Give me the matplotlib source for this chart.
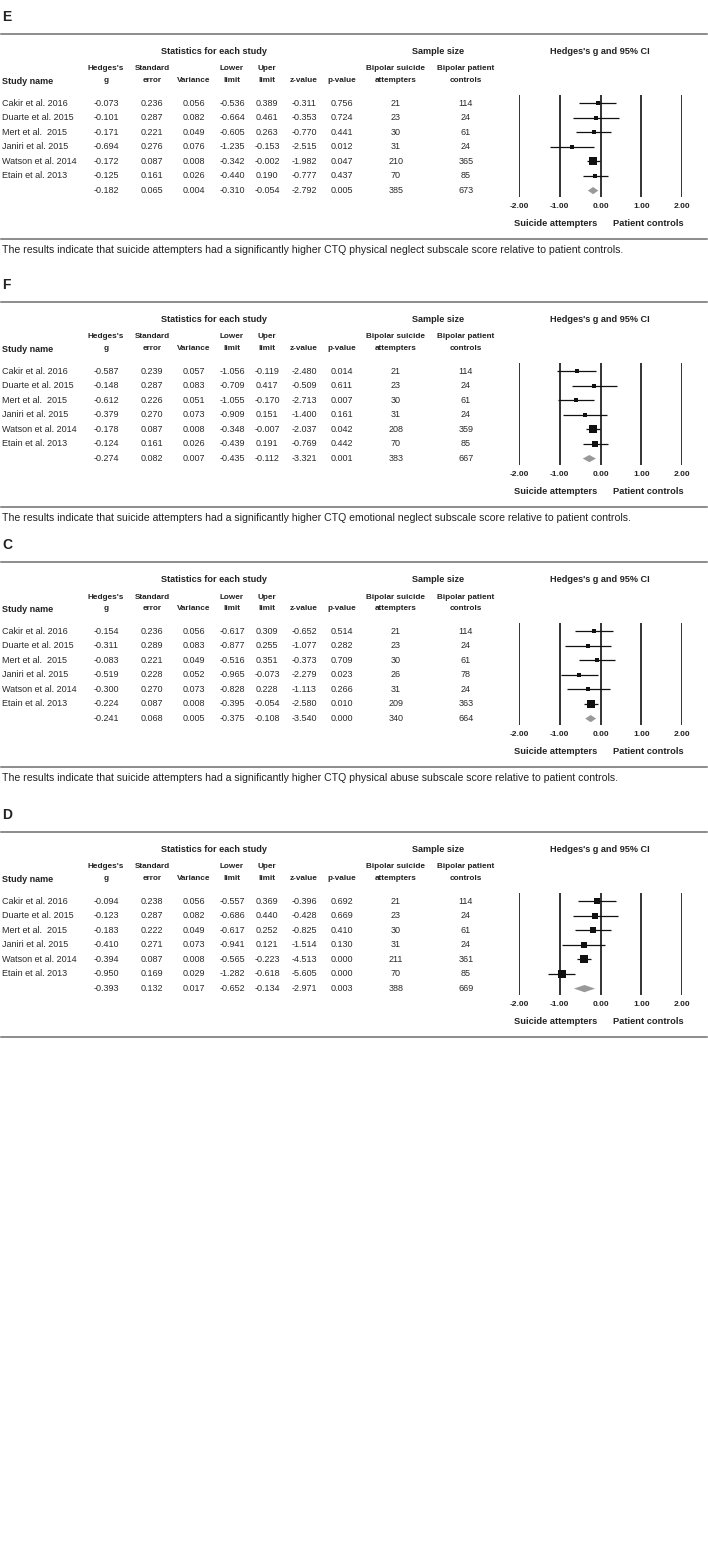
import numpy as np
import matplotlib
matplotlib.use("Agg")
import matplotlib.pyplot as plt
from matplotlib.lines import Line2D
from matplotlib.patches import Polygon

plt.rcParams['font.family'] = ['Liberation Sans', 'DejaVu Sans']

W, H = 708, 1561

studies = ["Cakir et al. 2016", "Duarte et al. 2015", "Mert et al.  2015",
           "Janiri et al. 2015", "Watson et al. 2014", "Etain et al. 2013", ""]

panel_labels = ["E", "F", "C", "D"]
captions = [
    "The results indicate that suicide attempters had a significantly higher CTQ physical neglect subscale score relative to patient controls.",
    "The results indicate that suicide attempters had a significantly higher CTQ emotional neglect subscale score relative to patient controls.",
    "The results indicate that suicide attempters had a significantly higher CTQ physical abuse subscale score relative to patient controls.",
    "",
]

# last entry of each list = summary row
E_g = [-0.073, -0.101, -0.171, -0.694, -0.172, -0.125, -0.182]
E_se = [0.236, 0.287, 0.221, 0.276, 0.087, 0.161, 0.065]
E_var = [0.056, 0.082, 0.049, 0.076, 0.008, 0.026, 0.004]
E_low = [-0.536, -0.664, -0.605, -1.235, -0.342, -0.440, -0.310]
E_up = [0.389, 0.461, 0.263, -0.153, -0.002, 0.190, -0.054]
E_z = [-0.311, -0.353, -0.770, -2.515, -1.982, -0.777, -2.792]
E_p = [0.756, 0.724, 0.441, 0.012, 0.047, 0.437, 0.005]
E_n1 = [21, 23, 30, 31, 210, 70, 385]
E_n2 = [114, 24, 61, 24, 365, 85, 673]

F_g = [-0.587, -0.148, -0.612, -0.379, -0.178, -0.124, -0.274]
F_se = [0.239, 0.287, 0.226, 0.270, 0.087, 0.161, 0.082]
F_var = [0.057, 0.083, 0.051, 0.073, 0.008, 0.026, 0.007]
F_low = [-1.056, -0.709, -1.055, -0.909, -0.348, -0.439, -0.435]
F_up = [-0.119, 0.417, -0.170, 0.151, -0.007, 0.191, -0.112]
F_z = [-2.480, -0.509, -2.713, -1.400, -2.037, -0.769, -3.321]
F_p = [0.014, 0.611, 0.007, 0.161, 0.042, 0.442, 0.001]
F_n1 = [21, 23, 30, 31, 208, 70, 383]
F_n2 = [114, 24, 61, 24, 359, 85, 667]

C_g = [-0.154, -0.311, -0.083, -0.519, -0.300, -0.224, -0.241]
C_se = [0.236, 0.289, 0.221, 0.228, 0.270, 0.087, 0.068]
C_var = [0.056, 0.083, 0.049, 0.052, 0.073, 0.008, 0.005]
C_low = [-0.617, -0.877, -0.516, -0.965, -0.828, -0.395, -0.375]
C_up = [0.309, 0.255, 0.351, -0.073, 0.228, -0.054, -0.108]
C_z = [-0.652, -1.077, -0.373, -2.279, -1.113, -2.580, -3.540]
C_p = [0.514, 0.282, 0.709, 0.023, 0.266, 0.010, 0.000]
C_n1 = [21, 23, 30, 26, 31, 209, 340]
C_n2 = [114, 24, 61, 78, 24, 363, 664]

D_g = [-0.094, -0.123, -0.183, -0.410, -0.394, -0.950, -0.393]
D_se = [0.238, 0.287, 0.222, 0.271, 0.087, 0.169, 0.132]
D_var = [0.056, 0.082, 0.049, 0.073, 0.008, 0.029, 0.017]
D_low = [-0.557, -0.686, -0.617, -0.941, -0.565, -1.282, -0.652]
D_up = [0.369, 0.440, 0.252, 0.121, -0.223, -0.618, -0.134]
D_z = [-0.396, -0.428, -0.825, -1.514, -4.513, -5.605, -2.971]
D_p = [0.692, 0.669, 0.410, 0.130, 0.000, 0.000, 0.003]
D_n1 = [21, 23, 30, 31, 211, 70, 388]
D_n2 = [114, 24, 61, 24, 361, 85, 669]

ticks = [-2.0, -1.0, 0.0, 1.0, 2.0]

panels = [
    (E_g, E_se, E_var, E_low, E_up, E_z, E_p, E_n1, E_n2),
    (F_g, F_se, F_var, F_low, F_up, F_z, F_p, F_n1, F_n2),
    (C_g, C_se, C_var, C_low, C_up, C_z, C_p, C_n1, C_n2),
    (D_g, D_se, D_var, D_low, D_up, D_z, D_p, D_n1, D_n2),
]
panel_tops = [34, 302, 562, 832]  # y of the top rule, px

# layout (px)
row_dy = 14.6
col_x = [106, 152, 194, 232, 267, 304, 342, 396, 466]
x_lo, x_hi = 519, 682  # forest axis -2 .. 2
txt_col = '#2a2a2a'
rule_col = '#6e6e6e'

fig = plt.figure(figsize=(W / 100, H / 100), dpi=100)


def fx(x):
    return x / W


def fy(y):
    return 1 - y / H


def hrule(y):
    fig.add_artist(Line2D([fx(1), fx(707)], [fy(y), fy(y)], color=rule_col, lw=1.1))


def re_weights(g, v):
    # DerSimonian-Laird random effects weights
    g = np.asarray(g)
    v = np.asarray(v)
    w = 1 / v
    gf = np.sum(w * g) / np.sum(w)
    q = np.sum(w * (g - gf) ** 2)
    c = np.sum(w) - np.sum(w ** 2) / np.sum(w)
    tau2 = max(0.0, (q - (len(g) - 1)) / c)
    return 1 / (v + tau2)


for k, top in enumerate(panel_tops):
    g, se, var, low, up, z, p, n1, n2 = panels[k]

    fig.text(fx(2), fy(top - 17), panel_labels[k], fontsize=10, fontweight='bold',
             ha='left', va='center', color='#222')
    hrule(top)
    hrule(top + 205)
    if captions[k]:
        fig.text(fx(2), fy(top + 216), captions[k], fontsize=7.6, ha='left',
                 va='center', color='#222')

    # group headers
    fig.text(fx(214), fy(top + 18), "Statistics for each study", fontsize=6.6,
             fontweight='bold', ha='center', va='center', color='#222')
    fig.text(fx(438), fy(top + 18), "Sample size", fontsize=6.6,
             fontweight='bold', ha='center', va='center', color='#222')
    fig.text(fx(600), fy(top + 18), "Hedges's g and 95% CI", fontsize=6.6,
             fontweight='bold', ha='center', va='center', color='#222')

    # column headers
    h1, h2 = top + 35, top + 47
    fig.text(fx(2), fy(h2), "Study name", fontsize=6.5, fontweight='bold',
             ha='left', va='center', color='#222')
    heads = [("Hedges's", "g"), ("Standard", "error"), ("", "Variance"),
             ("Lower", "limit"), ("Uper", "limit"), ("", "z-value"), ("", "p-value"),
             ("Bipolar suicide", "attempters"), ("Bipolar patient", "controls")]
    for cx, (a, b) in zip(col_x, heads):
        if a:
            fig.text(fx(cx), fy(h1), a, fontsize=5.9, fontweight='bold',
                     ha='center', va='center', color='#222')
        fig.text(fx(cx), fy(h2), b, fontsize=5.9, fontweight='bold',
                 ha='center', va='center', color='#222')

    # table rows
    for i in range(7):
        y = top + 69 + i * row_dy
        fig.text(fx(2), fy(y), studies[i], fontsize=6.5, ha='left', va='center',
                 color=txt_col)
        vals = ["%.3f" % g[i], "%.3f" % se[i], "%.3f" % var[i], "%.3f" % low[i],
                "%.3f" % up[i], "%.3f" % z[i], "%.3f" % p[i], str(n1[i]), str(n2[i])]
        for cx, s in zip(col_x, vals):
            fig.text(fx(cx), fy(y), s, fontsize=6.5, ha='center', va='center',
                     color=txt_col)

    # forest plot
    y0, y1 = top + 61, top + 163
    ax = fig.add_axes([fx(x_lo), fy(y1), (x_hi - x_lo) / W, (y1 - y0) / H])
    ax.set_xlim(-2, 2)
    ax.set_ylim((y1 - (top + 69)) / row_dy, (y0 - (top + 69)) / row_dy)
    ax.axis('off')
    for t in ticks:
        ax.axvline(t, color='#111', lw=1.2)

    w = re_weights(g[:6], var[:6])
    sides = 8.5 * np.sqrt(w / w.max()) * 0.72  # px -> pt
    for i in range(6):
        ax.plot([low[i], up[i]], [i, i], color='#111', lw=0.9, solid_capstyle='butt')
        ax.plot(g[i], i, marker='s', ms=max(sides[i], 2.4), color='#111', mew=0)
    hh = 3.6 / row_dy
    ax.add_patch(Polygon([[low[6], 6], [g[6], 6 - hh], [up[6], 6], [g[6], 6 + hh]],
                         closed=True, color='#999999', lw=0))

    for t in ticks:
        fig.text(fx(x_lo + (t + 2) / 4 * (x_hi - x_lo)), fy(top + 173), "%.2f" % t,
                 fontsize=6.0, fontweight='bold', ha='center', va='center', color='#222')
    fig.text(fx(597), fy(top + 189), "Suicide attempters", fontsize=6.7,
             fontweight='bold', ha='right', va='center', color='#222')
    fig.text(fx(613), fy(top + 189), "Patient controls", fontsize=6.7,
             fontweight='bold', ha='left', va='center', color='#222')

fig.savefig("out.png", dpi=100, facecolor='white')
